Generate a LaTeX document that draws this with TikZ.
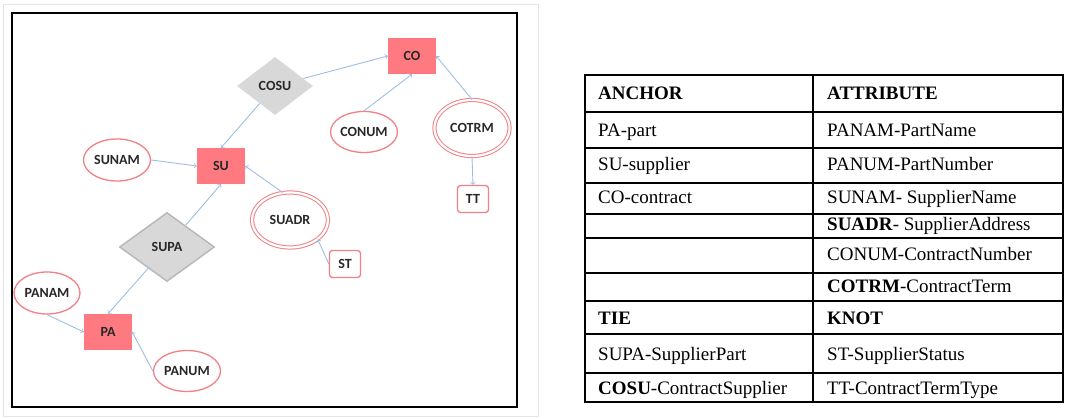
\documentclass[tikz,border=0pt]{standalone}
\usepackage{fontspec}
\setmainfont{Liberation Serif}
\newfontfamily\diagfont{Carlito}
\usepackage{tikz}
\usetikzlibrary{shapes.geometric}
\definecolor{anchorred}{RGB}{255,122,128}
\definecolor{attrred}{RGB}{242,128,132}
\definecolor{tiegray}{RGB}{216,216,216}
\definecolor{linkblue}{RGB}{158,190,228}
\definecolor{labelgray}{RGB}{40,40,40}
\tikzstyle{anchorbox} = [rectangle, fill=anchorred, minimum width=48pt, minimum height=36pt, inner sep=0pt]
\tikzstyle{attr} = [ellipse, draw=attrred, line width=1.3pt, fill=white, minimum width=67pt, minimum height=42pt, inner sep=0pt]
\tikzstyle{hattr} = [ellipse, draw=attrred, double=white, double distance=2.2pt, line width=1pt, minimum width=75pt, minimum height=56pt, inner sep=0pt]
\tikzstyle{tie} = [diamond, fill=tiegray, minimum width=76pt, minimum height=58pt, inner sep=0pt]
\tikzstyle{knot} = [rectangle, rounded corners=3pt, draw=attrred, line width=1.3pt, fill=white, minimum width=31pt, minimum height=27pt, inner sep=0pt]
\tikzstyle{cell} = [anchor=base west, inner sep=0pt, text=black, font=\fontsize{19}{21}\selectfont]
\tikzstyle{link} = [->, draw=linkblue, line width=0.9pt]

\begin{document}
\begin{tikzpicture}[x=1pt, y=-1pt, every node/.style={font=\diagfont\bfseries\fontsize{14}{16}\selectfont, text=labelgray}]
    \useasboundingbox (0,0) rectangle (1065,419);
    \draw[gray!20] (3,4) rectangle (538,416);
    \draw[line width=1.5pt] (12,13) rectangle (517,407);

    \draw (412,56) node[anchorbox] (co) {CO};
    \draw (221,166) node[anchorbox] (su) {SU};
    \draw (108,332) node[anchorbox] (pa) {PA};
    \draw (275,86) node[tie] (cosu) {COSU};
    \draw (167,247) node[tie, draw=gray!55, line width=1.5pt, minimum width=95pt, minimum height=69pt] (supa) {SUPA};
    \draw (117,160) node[attr] (sunam) {SUNAM};
    \draw (364,132) node[attr, minimum width=65pt, minimum height=41pt] (conum) {CONUM};
    \draw (47,293) node[attr, minimum width=66pt] (panam) {PANAM};
    \draw (187,371) node[attr, minimum height=41pt] (panum) {PANUM};
    \draw (472,128) node[hattr] (cotrm) {COTRM};
    \draw (290,220) node[hattr, minimum width=76pt, minimum height=55pt] (suadr) {SUADR};
    \draw (473,199) node[knot] (tt) {TT};
    \draw (345,264) node[knot] (st) {ST};

    \draw [link] (cosu) -- (co.west);
    \draw [link] (cosu) -- (su.north);
    \draw [link] (conum.north) -- (co.south);
    \draw [link] (cotrm.north) -- (co.east);
    \draw [link] (cotrm.south) -- (tt.north);
    \draw [link] (sunam.east) -- (su.west);
    \draw [link] (suadr.105) -- (su.east);
    \draw [link] (st.west) -- (suadr.-35);
    \draw [link] (supa) -- (su.south);
    \draw [link] (supa) -- (pa.north);
    \draw [link] (panam.south) -- (pa.west);
    \draw [link] (panum.west) -- (pa.east);

    \draw[line width=1.2pt] (585,75) rectangle (1063,402);
    \draw[line width=1.2pt] (813,75) -- (813,402);
    \foreach \y in {112,148,183,214,238,273,301,334,373}
        \draw[line width=1.2pt] (585,\y) -- (1063,\y);

    \node[cell] (hanchor) at (598,100) {\textbf{ANCHOR}};
    \node[cell] (hattrib) at (827,100) {\textbf{ATTRIBUTE}};
    \node[cell] (apa) at (598,137) {PA-part};
    \node[cell] (asu) at (598,171) {SU-supplier};
    \node[cell] (aco) at (598,204) {CO-contract};
    \node[cell] (tpanam) at (827,137) {PANAM-PartName};
    \node[cell] (tpanum) at (827,171) {PANUM-PartNumber};
    \node[cell] (tsunam) at (827,204) {SUNAM- SupplierName};
    \node[cell] (tsuadr) at (827,231) {\textbf{SUADR}- SupplierAddress};
    \node[cell] (tconum) at (827,261) {CONUM-ContractNumber};
    \node[cell] (tcotrm) at (827,293) {\textbf{COTRM}-ContractTerm};
    \node[cell] (htie) at (598,325) {\textbf{TIE}};
    \node[cell] (hknot) at (827,325) {\textbf{KNOT}};
    \node[cell] (tsupa) at (598,360) {SUPA-SupplierPart};
    \node[cell] (tcosu) at (598,394) {\textbf{COSU}-ContractSupplier};
    \node[cell] (tst) at (827,360) {ST-SupplierStatus};
    \node[cell] (ttt) at (827,394) {TT-ContractTermType};
\end{tikzpicture}
\end{document}
